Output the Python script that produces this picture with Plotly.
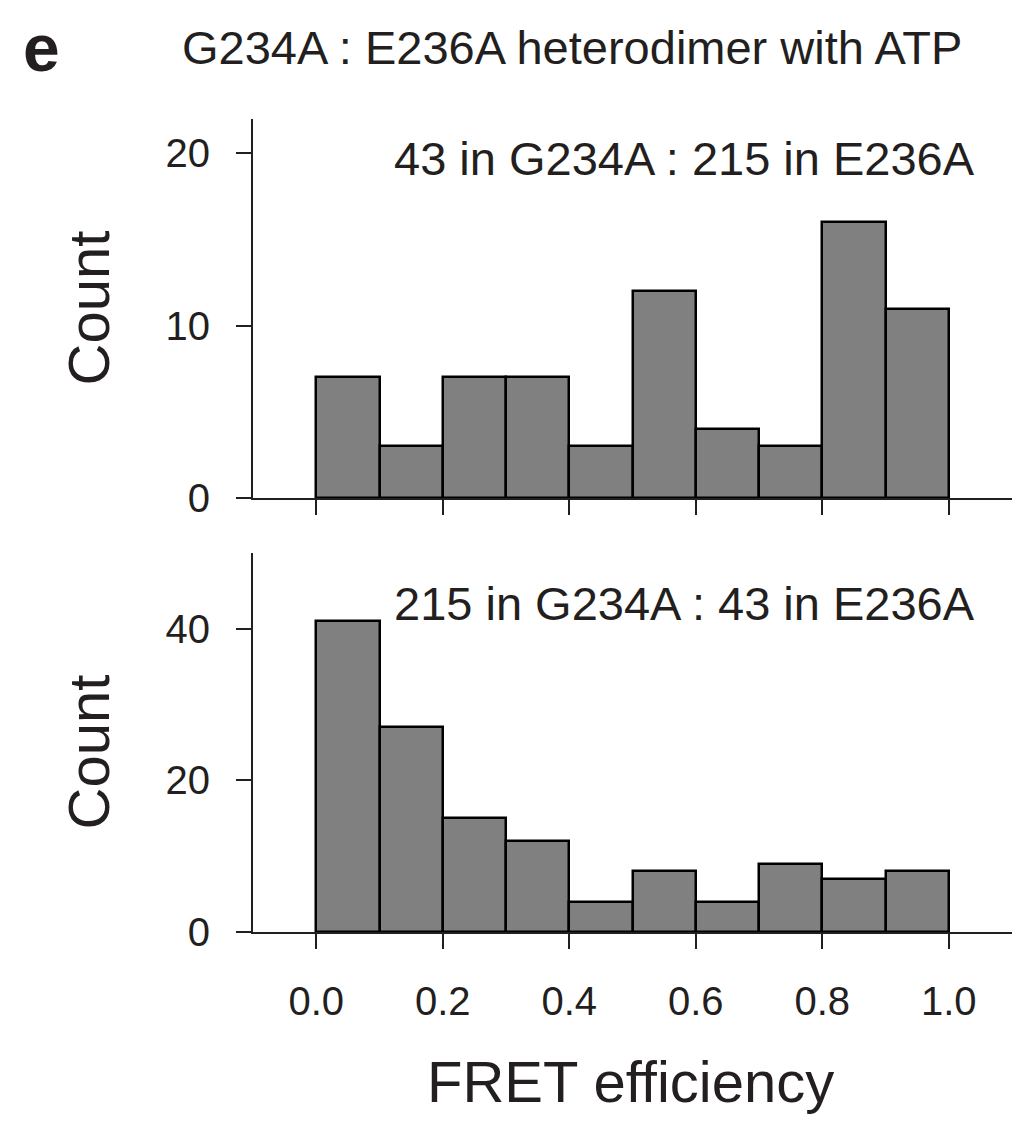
import plotly.graph_objects as go

# ---- data ----
bin_centers = [0.05, 0.15, 0.25, 0.35, 0.45, 0.55, 0.65, 0.75, 0.85, 0.95]
bin_width = 0.1
counts_top = [7, 3, 7, 7, 3, 12, 4, 3, 16, 11]
counts_bottom = [41, 27, 15, 12, 4, 8, 4, 9, 7, 8]
x_ticks = [0.0, 0.2, 0.4, 0.6, 0.8, 1.0]
x_tick_labels = ["0.0", "0.2", "0.4", "0.6", "0.8", "1.0"]
y_ticks_top = [0, 10, 20]
y_ticks_bottom = [0, 20, 40]
panel_title = "G234A : E236A heterodimer with ATP"
label_top = "43 in G234A : 215 in E236A"
label_bottom = "215 in G234A : 43 in E236A"

# page body has an 8px default margin; figure is sized to fit the window exactly
OFF = 8
W, H = 1027 - 2 * OFF, 1122 - 2 * OFF
L, T = 253 - OFF, 119 - OFF
R = W - (1012 - OFF)
B = H - (932 - OFF)
PW, PH = W - L - R, H - T - B

def px(xp):  # window pixel -> paper x
    return (xp - OFF - L) / PW

def py(yp):  # window pixel -> paper y
    return (H - B - (yp - OFF)) / PH

INK = "#231f20"
FONT = "Liberation Sans, Arial, Helvetica, sans-serif"

fig = go.Figure()
bar_style = dict(width=bin_width, marker=dict(color="#808080", line=dict(color="black", width=2.5)),
                 showlegend=False, hoverinfo="x+y")
fig.add_trace(go.Bar(x=bin_centers, y=counts_top, xaxis="x", yaxis="y", **bar_style))
fig.add_trace(go.Bar(x=bin_centers, y=counts_bottom, xaxis="x2", yaxis="y2", **bar_style))

dom_top = [py(498), 1.0]
dom_bot = [0.0, py(553)]

ax_common = dict(showline=True, linecolor=INK, linewidth=2, ticks="outside", ticklen=15,
                 tickwidth=2, tickcolor=INK, showgrid=False, zeroline=False,
                 tickfont=dict(family=FONT, size=40, color=INK), ticklabelstandoff=18)

fig.update_layout(
    width=W, height=H,
    margin=dict(l=L, r=R, t=T, b=B, pad=0),
    paper_bgcolor="white", plot_bgcolor="white",
    bargap=0,
    font=dict(family=FONT, color=INK),
    xaxis=dict(domain=[0, 1], range=[-0.1, 1.1], anchor="y", tickvals=x_ticks,
               showticklabels=False, **ax_common),
    yaxis=dict(domain=dom_top, range=[0, 22], anchor="x", tickvals=y_ticks_top, **ax_common),
    xaxis2=dict(domain=[0, 1], range=[-0.1, 1.1], anchor="y2", tickvals=x_ticks,
                ticktext=x_tick_labels, **ax_common),
    yaxis2=dict(domain=dom_bot, range=[0, 50], anchor="x2", tickvals=y_ticks_bottom, **ax_common),
)

ann = []
ann.append(dict(text="<b>e</b>", x=px(42), y=py(48), font=dict(family=FONT, size=66, color=INK)))
ann.append(dict(text=panel_title, x=px(572), y=py(47), font=dict(family=FONT, size=47, color=INK)))
ann.append(dict(text=label_top, x=px(684), y=py(158.5), font=dict(family=FONT, size=47, color=INK)))
ann.append(dict(text=label_bottom, x=px(684), y=py(603.5), font=dict(family=FONT, size=47, color=INK)))
ann.append(dict(text="Count", x=px(88), y=py(308.5), textangle=-90, font=dict(family=FONT, size=58, color=INK)))
ann.append(dict(text="Count", x=px(88), y=py(752.5), textangle=-90, font=dict(family=FONT, size=58, color=INK)))
ann.append(dict(text="FRET efficiency", x=px(630), y=py(1081), font=dict(family=FONT, size=58, color=INK)))
for a in ann:
    a.update(xref="paper", yref="paper", xanchor="center", yanchor="middle", showarrow=False)
fig.update_layout(annotations=ann)

fig.write_html("out.html")
